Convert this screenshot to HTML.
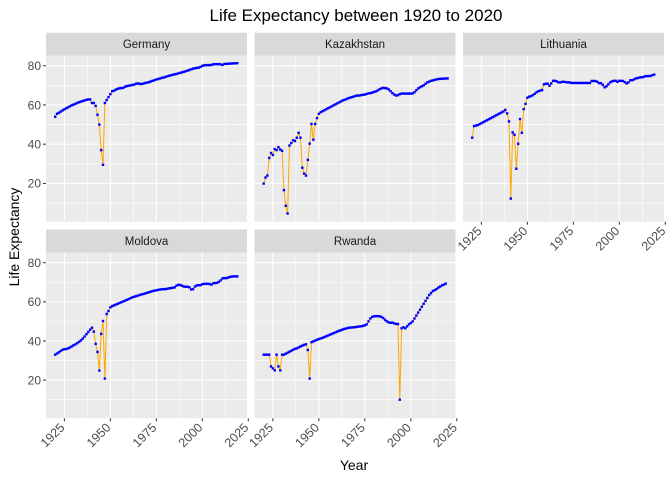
<!DOCTYPE html>
<html><head><meta charset="utf-8"><style>
html,body{margin:0;padding:0;background:#fff;}
svg{display:block;font-family:"Liberation Sans",Arial,sans-serif;}
</style></head><body>
<svg id="chart" width="672" height="480" viewBox="0 0 672 480" xmlns="http://www.w3.org/2000/svg">
<text x="356" y="21" text-anchor="middle" font-size="17" fill="#000">Life Expectancy between 1920 to 2020</text>
<text x="354" y="470" text-anchor="middle" font-size="14" fill="#000">Year</text>
<text transform="translate(19,237) rotate(-90)" text-anchor="middle" font-size="14" fill="#000">Life Expectancy</text>
<g id="panels"></g>
</svg>
<script>
const countries = ["Germany","Kazakhstan","Lithuania","Moldova","Rwanda"];
const startYear = 1920;
const germany = [54,55.5,56,56.6,57.2,57.8,58.3,58.8,59.3,59.8,60.2,60.6,61,61.4,61.7,62,62.3,62.6,62.8,62.8,61,61,59.5,55,50,37,29.5,61,62.5,64,65.5,67,67.3,67.8,68.2,68.5,68.6,68.7,69.3,69.6,69.8,70,70.2,70.4,70.8,71,70.7,70.7,70.9,71.2,71.4,71.6,72,72.3,72.6,73,73.2,73.5,73.8,74,74.3,74.6,74.9,75.1,75.4,75.6,75.8,76.1,76.4,76.6,76.9,77.2,77.5,77.8,78.2,78.5,78.7,78.9,79,79.4,79.9,80.2,80.3,80.3,80.3,80.4,80.7,80.8,80.8,80.8,80.7,80.4,80.9,80.9,81,81.1,81.1,81.2,81.2,81.3];
const kazakhstan = [19.9,23,24,33,35.5,34.5,37.5,37,38.5,37.3,36.6,16.6,8.6,4.7,39.3,40.6,42,41.6,43.3,45.8,43.3,28,25,24,32,40.3,50.3,42.3,50.3,53.3,55.5,56.3,56.8,57.3,57.8,58.3,58.8,59.3,59.8,60.3,60.8,61.3,61.8,62.3,62.6,63,63.4,63.7,64,64.3,64.6,64.8,64.8,65,65.2,65.3,65.6,65.9,66,66.3,66.6,66.9,67.4,68,68.4,68.7,68.6,68.4,67.9,67,66,65.3,64.8,65,65.5,65.8,65.8,65.8,65.8,65.8,65.8,65.9,66.5,67.5,68.4,69,69.5,70,70.8,71.5,71.9,72.3,72.5,72.8,73,73.2,73.3,73.4,73.4,73.5,73.5];
const lithuania = [43.3,49.2,49.5,49.7,50.2,50.7,51.2,51.7,52.2,52.7,53.2,53.7,54.2,54.7,55.2,55.7,56.2,56.7,57.5,55.7,51.6,12.3,46,44.8,27.5,40.2,52.8,45.8,57.9,60.6,63.7,64.2,64.5,65,65.7,66.5,67,67.3,67.6,70.5,70.8,70.8,69.8,71,72.3,72.3,72,71.5,71.5,71.8,71.8,71.6,71.5,71.5,71.2,71.2,71.2,71.2,71.2,71.2,71.2,71.2,71.2,71.2,71.2,72.2,72.2,72.2,71.8,71.1,71.1,70.3,69,69.5,70.5,71.5,72,72.3,72.3,71.8,72.3,72.3,72.2,71.6,71,71.5,72.6,72.6,73,73.5,73.7,74,74.1,74.2,74.6,74.7,74.7,74.8,75.2,75.5];
const moldova = [33,33.6,34.2,34.9,35.5,35.8,35.9,36.2,36.7,37.2,37.8,38.3,38.9,39.6,40.3,41.2,42.3,43.5,44.6,45.8,46.8,44.8,38.5,34.4,24.9,43.6,50.2,20.8,53.8,55.3,57.2,57.8,58.2,58.6,59,59.4,59.8,60.2,60.6,61,61.4,61.9,62.3,62.6,62.9,63.2,63.5,63.8,64,64.3,64.6,64.9,65.2,65.5,65.7,65.9,66.1,66.3,66.4,66.5,66.5,66.7,66.9,67,67.2,67.4,68.3,68.7,68.6,68.2,67.8,67.7,67.7,67.4,66.3,66.5,67.8,68.4,68.5,68.5,69,69.2,69.2,69.2,69.1,68.8,69.5,69.6,69.7,70.2,71,72,72.1,72.1,72.4,72.7,72.9,73,73,73];
const rwanda = [33,33,33,33,27,26,25,33,27,25,33,33,33.5,34,34.5,35,35.5,36,36.2,36.7,37.2,37.6,38,38.3,35.4,20.8,39.4,39.8,40.2,40.6,41,41.3,41.6,42,42.4,42.8,43.2,43.6,44,44.4,44.8,45.2,45.5,45.9,46.2,46.4,46.7,46.8,46.9,47,47.1,47.3,47.4,47.5,47.7,48,48.5,50,51.5,52.3,52.6,52.7,52.7,52.6,52.3,51.7,50.8,50,49.5,49.3,49.4,49,48.7,48.7,10,46.5,47,46.5,47.5,48.5,49.2,50,51.5,53,54.5,56,57.5,59,60.5,62,63.5,64.5,65.5,66,66.5,67.3,67.8,68.4,68.8,69.3];
const seriesValues = [germany,kazakhstan,lithuania,moldova,rwanda];
const xTicks = [1925,1950,1975,2000,2025];
const yTicks = [20,40,60,80];

const NS="http://www.w3.org/2000/svg";
const root=document.getElementById('panels');
const X0=1915, X1=2024.3, Y0=0.5, Y1=85.1;
const PW=201;
const lefts=[46,254.5,463,46,254.5];
const rows=[{st:32.7,top:55.7,bot:221.7},{st:229.5,top:252.7,bot:418.3}];
function mk(tag,attrs,parent){const e=document.createElementNS(NS,tag);for(const k in attrs)e.setAttribute(k,attrs[k]);parent.appendChild(e);return e;}
countries.forEach((name,i)=>{
  const L=lefts[i], r=rows[i<3?0:1];
  const sx=v=>L+(v-X0)/(X1-X0)*PW;
  const sy=v=>r.bot-(v-Y0)/(Y1-Y0)*(r.bot-r.top);
  const g=mk('g',{},root);
  
  
  const strip=mk('rect',{x:L,y:r.st,width:PW,height:r.top-r.st,fill:'#d9d9d9'},g);
  
  
  const st=mk('text',{x:L+PW/2,y:r.st+15.5,'text-anchor':'middle','font-size':'11.5',fill:'#1a1a1a'},g);
  st.textContent=name;
  
  
  const bg=mk('rect',{x:L,y:r.top,width:PW,height:r.bot-r.top,fill:'#ebebeb'},g);
  
  
  [10,30,50,70].forEach(v=>{const l=mk('line',{x1:L,x2:L+PW,y1:sy(v),y2:sy(v),stroke:'#fff','stroke-width':0.55},g);});
  [1937.5,1962.5,1987.5,2012.5].forEach(v=>{const l=mk('line',{x1:sx(v),x2:sx(v),y1:r.top,y2:r.bot,stroke:'#fff','stroke-width':0.55},g);});
  yTicks.forEach(v=>{const l=mk('line',{x1:L,x2:L+PW,y1:sy(v),y2:sy(v),stroke:'#fff','stroke-width':1.1},g);});
  xTicks.forEach(v=>{if(sx(v)<=L+PW+0.5){const l=mk('line',{x1:sx(v),x2:sx(v),y1:r.top,y2:r.bot,stroke:'#fff','stroke-width':1.1},g);}});
  if(i===0||i===3){
    yTicks.forEach(v=>{
      const t=mk('line',{x1:L-3,x2:L,y1:sy(v),y2:sy(v),stroke:'#333','stroke-width':1},g);
      
      const tx=mk('text',{x:L-5,y:sy(v)+4.3,'text-anchor':'end','font-size':'12',fill:'#4d4d4d'},g);
      tx.textContent=v;
      
    });
  }
  if(i>=2){
    xTicks.forEach(v=>{
      const x=sx(v);
      const t=mk('line',{x1:x,x2:x,y1:r.bot,y2:r.bot+3,stroke:'#333','stroke-width':1},g);
      
      const ax=x+1, ay=r.bot+10;
      const tx=mk('text',{x:ax,y:ay,'text-anchor':'end','font-size':'12.5',fill:'#4d4d4d',transform:`rotate(-45 ${ax} ${ay})`},g);
      tx.textContent=v;
      
    });
  }
  const vals=seriesValues[i];
  const d=vals.map((v,k)=>(k?'L':'M')+sx(startYear+k).toFixed(2)+','+sy(v).toFixed(2)).join('');
  const path=mk('path',{d:d,fill:'none',stroke:'#FFA500','stroke-width':1},g);
  
  
  vals.forEach((v,k)=>{
    const c=mk('rect',{x:sx(startYear+k)-1.2,y:sy(v)-1.2,width:2.4,height:2.4,fill:'#0000ff'},g);
    
    
  });
});
</script>
</body></html>
